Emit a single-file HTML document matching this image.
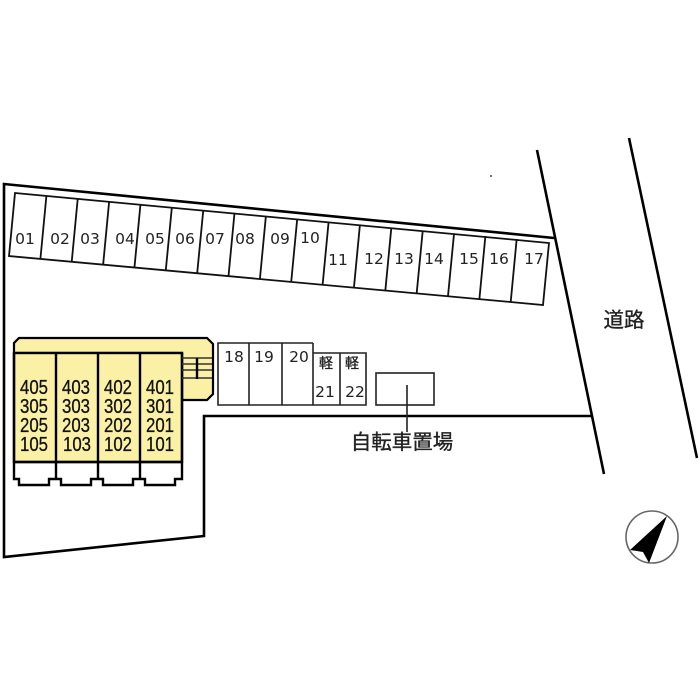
<!DOCTYPE html>
<html><head><meta charset="utf-8"><style>
html,body{margin:0;padding:0;background:#fff}
svg{display:block}
.p{font-family:"DejaVu Sans",sans-serif;font-size:15.5px;fill:#222;text-anchor:middle;dominant-baseline:central}
.b{font-family:"Liberation Sans",sans-serif;font-size:20px;fill:#111;stroke:#111;stroke-width:.3;text-anchor:middle}
.j{font-family:"Liberation Sans","Noto Sans CJK JP",sans-serif;fill:#222;stroke:#222;stroke-width:.35;text-anchor:middle}
</style></head><body>
<svg width="700" height="700" viewBox="0 0 700 700" xmlns="http://www.w3.org/2000/svg">
<g style="filter:blur(.35px)">
<g fill="none" stroke="#000">
<path d="M554 238L4 184V557L204 536V416H592" stroke-width="2.6"/>
<path d="M537 150L604 474M629 138L697 458" stroke-width="2.6"/>
<g stroke-width="1.8" stroke="#111">
<path d="M15 193L549 243L543 305L9 256Z"/>
<path d="M46.400 196L40.400 259M77.700 199L71.700 262M109.100 202L103.100 265M140.400 205L134.400 268M171.800 208L165.800 270M203.200 211L197.200 273M234.500 213L228.500 276M265.900 216L259.900 279M297.200 219L291.200 282M328.600 222L322.600 285M359.900 225L353.900 288M391.300 228L385.300 291M422.700 231L416.700 293M454 234L448 296M485.400 236L479.400 299M516.700 239L510.700 302"/>
</g>
<path d="M19 338H207L213 344V394L207 400H182V353H14V343Z" fill="#fbf1a6" stroke-width="2.2"/>
<rect x="14" y="353" width="168" height="109" fill="#fbf1a6" stroke-width="2.4"/>
<path d="M14 353V479H19V485H49V479H61V485H91V479H103V485H133V479H145V485H175V479H182V353M56 353V479M98 353V479M140 353V479" stroke-width="2.4"/>
<path d="M14 462H182" stroke-width="2.4"/>
<path d="M182 358H212M182 364H212M182 370H212M182 378H212" stroke-width="1.4" stroke="#333"/>
<path d="M197 358V379" stroke-width="2.4"/>
<g stroke-width="1.6" stroke="#222">
<path d="M313 343H218V405H366V353H313M249 343V405M282 343V405M313 343V405M340 353V405"/>
<rect x="376" y="373" width="58" height="32"/>
<path d="M407 385V432"/>
</g>
<circle cx="652" cy="537" r="26" stroke="#666" stroke-width="1.6"/>
</g>
<path d="M667 516L630 550L643 552L649 563Z" fill="#000"/>
<rect x="490" y="175" width="2" height="2" fill="#777"/>
<text class="p" x="25" y="239">01</text><text class="p" x="60" y="239">02</text><text class="p" x="90" y="239">03</text><text class="p" x="125" y="239">04</text><text class="p" x="155" y="239">05</text><text class="p" x="185" y="239">06</text><text class="p" x="215" y="239">07</text><text class="p" x="245" y="239">08</text><text class="p" x="280" y="239">09</text><text class="p" x="310" y="238">10</text>
<text class="p" x="338" y="260">11</text><text class="p" x="374" y="259">12</text><text class="p" x="404" y="259">13</text><text class="p" x="434" y="259">14</text><text class="p" x="469" y="259">15</text><text class="p" x="499" y="259">16</text><text class="p" x="534" y="259">17</text>
<text class="p" x="234" y="357">18</text><text class="p" x="264" y="357">19</text><text class="p" x="299" y="357">20</text>
<text class="p" x="325" y="392">21</text><text class="p" x="355" y="392">22</text>
<text class="b" x="34" y="394" textLength="28" lengthAdjust="spacingAndGlyphs">405</text><text class="b" x="34" y="413" textLength="28" lengthAdjust="spacingAndGlyphs">305</text><text class="b" x="34" y="432" textLength="28" lengthAdjust="spacingAndGlyphs">205</text><text class="b" x="34" y="451" textLength="28" lengthAdjust="spacingAndGlyphs">105</text>
<text class="b" x="76" y="394" textLength="28" lengthAdjust="spacingAndGlyphs">403</text><text class="b" x="76" y="413" textLength="28" lengthAdjust="spacingAndGlyphs">303</text><text class="b" x="76" y="432" textLength="28" lengthAdjust="spacingAndGlyphs">203</text><text class="b" x="77" y="451" textLength="28" lengthAdjust="spacingAndGlyphs">103</text>
<text class="b" x="118" y="394" textLength="28" lengthAdjust="spacingAndGlyphs">402</text><text class="b" x="118" y="413" textLength="28" lengthAdjust="spacingAndGlyphs">302</text><text class="b" x="118" y="432" textLength="28" lengthAdjust="spacingAndGlyphs">202</text><text class="b" x="118" y="451" textLength="28" lengthAdjust="spacingAndGlyphs">102</text>
<text class="b" x="160" y="394" textLength="28" lengthAdjust="spacingAndGlyphs">401</text><text class="b" x="160" y="413" textLength="28" lengthAdjust="spacingAndGlyphs">301</text><text class="b" x="160" y="432" textLength="28" lengthAdjust="spacingAndGlyphs">201</text><text class="b" x="160" y="451" textLength="28" lengthAdjust="spacingAndGlyphs">101</text>
<text class="j" x="326" y="368" font-size="14">軽</text>
<text class="j" x="352" y="368" font-size="14">軽</text>
<text class="j" x="402" y="449" font-size="20.500">自転車置場</text>
<text class="j" x="624" y="327" font-size="20.500">道路</text>
</g>
</svg>
</body></html>
